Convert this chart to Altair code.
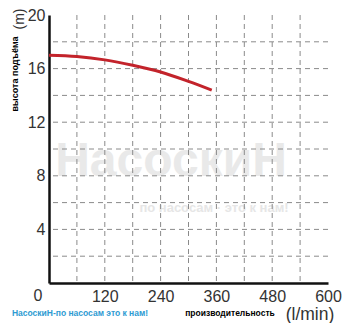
import altair as alt
import pandas as pd

# data
flow = [0, 60, 120, 180, 240, 300, 350]
head = [17.0, 16.9, 16.65, 16.25, 15.75, 15.05, 14.4]
x_ticks = [120, 240, 360, 480, 600]
y_ticks = [4, 8, 12, 16, 20]
x_grid = [60, 120, 180, 240, 300, 360, 420, 480, 540]
y_grid = [2, 4, 6, 8, 10, 12, 14, 16, 18]

W, H = 279, 268
xs = alt.Scale(domain=[0, 600], nice=False, zero=True)
ys = alt.Scale(domain=[0, 20], nice=False, zero=True)

xaxis = alt.Axis(
    values=x_ticks, title=None, grid=False, ticks=False, tickSize=0,
    labelFontSize=16, labelColor="#333", labelFont="Liberation Sans",
    labelPadding=5, domainColor="#111", domainWidth=2.5, labelFlush=False,
)
yaxis = alt.Axis(
    values=y_ticks, title=None, grid=False, ticks=False, tickSize=0,
    labelFontSize=16, labelColor="#333", labelFont="Liberation Sans",
    labelPadding=4, domainColor="#111", domainWidth=2.5, labelFlush=False,
)

grid_color = "#8a8a8a"

vgrid = alt.Chart(pd.DataFrame({"x": x_grid})).mark_rule(
    color=grid_color, strokeWidth=1, strokeDash=[5, 4]
).encode(x=alt.X("x:Q", scale=xs, axis=xaxis))

hgrid = alt.Chart(pd.DataFrame({"y": y_grid})).mark_rule(
    color=grid_color, strokeWidth=1, strokeDash=[5, 4]
).encode(y=alt.Y("y:Q", scale=ys, axis=yaxis))


def txt(t, x, y, size, color="#000", weight="normal", angle=0, font="Liberation Sans"):
    return alt.Chart(pd.DataFrame({"t": [t]})).mark_text(
        fontSize=size, color=color, fontWeight=weight, angle=angle, font=font,
        align="center", baseline="middle"
    ).encode(x=alt.value(x), y=alt.value(y), text="t:N")


wm1 = txt("НасоскиН", 122, 147, 48, color="#e9e9e9", weight="bold")
wm2 = txt("по насосам · это к нам!", 165, 193, 13, color="#e6e6e6", weight="bold")

curve = alt.Chart(pd.DataFrame({"q": flow, "h": head})).mark_line(
    color="#c3232b", strokeWidth=3, interpolate="monotone"
).encode(
    x=alt.X("q:Q", scale=xs, axis=xaxis),
    y=alt.Y("h:Q", scale=ys, axis=yaxis),
)

zero = txt("0", -11, 281, 16, color="#333")
ytitle = txt("высота подъёма", -34.5, 59, 9, weight="bold", angle=270)
yunit = txt("(m)", -29, 4, 14, color="#333", angle=270)
xtitle = txt("производительность", 181, 298, 8.5, weight="bold")
xunit = txt("(l/min)", 261, 300, 17.5, color="#333")
brand = txt("НасоскиН-по насосам это к нам!", 31, 298, 8.5, color="#2e9bd2", weight="bold")

chart = alt.layer(
    wm1, wm2, vgrid, hgrid, curve, zero, ytitle, yunit, xtitle, xunit, brand
).properties(
    width=W, height=H,
    padding={"left": 41, "top": 7, "right": 14, "bottom": 40},
    autosize=alt.AutoSizeParams(type="none"),
).configure_view(stroke=None)

chart.save("out.html", embed_options={"renderer": "svg", "actions": False})
